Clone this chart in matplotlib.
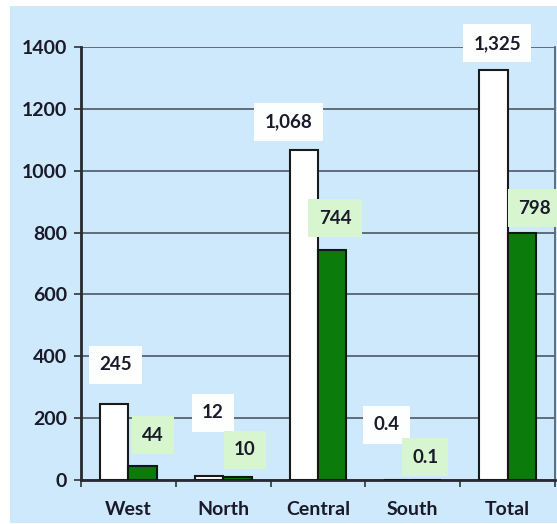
import matplotlib
matplotlib.use("Agg")
import matplotlib.pyplot as plt
from matplotlib.patches import Rectangle
import numpy as np

regions = ["West", "North", "Central", "South", "Total"]
vals_white = [245, 12, 1068, 0.4, 1325]
vals_green = [44, 10, 744, 0.1, 798]
labels_white = ["245", "12", "1,068", "0.4", "1,325"]
labels_green = ["44", "10", "744", "0.1", "798"]

# where the value boxes sit (data coords)
pos_white = [(-0.14, 372), (0.89, 217), (1.69, 1157), (2.72, 178), (3.89, 1412)]
pos_green = [(0.26, 145), (1.23, 97), (2.18, 847), (3.13, 74), (4.28, 879)]

plt.rcParams['font.family'] = ['Lato', 'DejaVu Sans']
txt_col = '#1a1a2a'

fig = plt.figure(figsize=(5.57, 5.24), dpi=100)
fig.patch.set_facecolor('white')
fig.patches.append(Rectangle((10/557, 1/524), 1 - 10/557, 517/524,
                             transform=fig.transFigure, facecolor='#cde9fb',
                             edgecolor='none', zorder=-10))

ax = fig.add_axes([81/557, 44/524, 474/557, 433/524])
ax.set_facecolor('none')

x = np.arange(len(regions))
w = 0.3
ax.bar(x - w/2, vals_white, w, color='white', edgecolor='#1a1a1a', linewidth=1.5, zorder=3)
ax.bar(x + w/2, vals_green, w, color='#0b7b0b', edgecolor='#0d1a0d', linewidth=1.5, zorder=3)

for (px, py), s in zip(pos_white, labels_white):
    ax.text(px, py, s, ha='center', va='center', fontsize=13.5, fontweight='bold',
            color=txt_col, zorder=5,
            bbox=dict(boxstyle='square,pad=0.55', facecolor='#fdfefe', edgecolor='none'))
for (px, py), s in zip(pos_green, labels_green):
    ax.text(px, py, s, ha='center', va='center', fontsize=13.5, fontweight='bold',
            color=txt_col, zorder=5,
            bbox=dict(boxstyle='square,pad=0.55', facecolor='#d7f6cf', edgecolor='none'))

ax.set_xlim(-0.5, 4.5)
ax.set_ylim(0, 1400)
ax.set_yticks(np.arange(0, 1401, 200))
ax.yaxis.grid(True, color='#56646f', linewidth=1.3, zorder=1)
ax.set_axisbelow(True)

# category labels at centres, tick marks at boundaries
ax.set_xticks(x)
ax.set_xticklabels(regions)
ax.set_xticks(np.arange(-0.5, 4.6, 1), minor=True)
ax.tick_params(axis='x', which='major', length=0, pad=15, labelsize=14, labelcolor=txt_col)
ax.tick_params(axis='x', which='minor', length=5, width=1.2, direction='out', color='#333333')
ax.tick_params(axis='y', length=5, width=1.2, pad=5, labelsize=14, labelcolor=txt_col, color='#333333')
for lab in ax.get_xticklabels() + ax.get_yticklabels():
    lab.set_fontweight('bold')

ax.spines['top'].set_visible(False)
ax.spines['left'].set_color('#262a33')
ax.spines['left'].set_linewidth(2)
ax.spines['bottom'].set_color('#262a33')
ax.spines['bottom'].set_linewidth(2)
ax.spines['right'].set_color('#56646f')
ax.spines['right'].set_linewidth(1.3)

fig.savefig('out.png', dpi=100)
